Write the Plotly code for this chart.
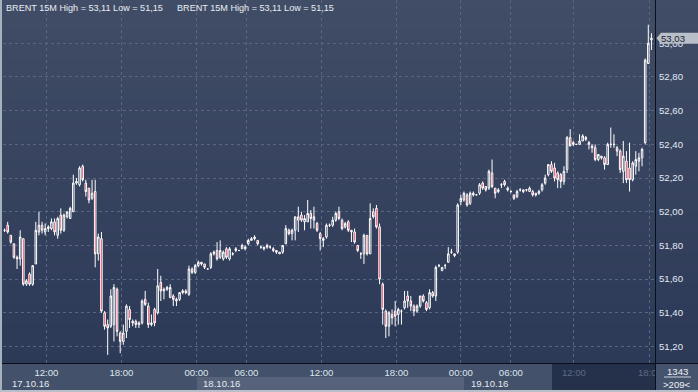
import plotly.graph_objects as go

# ---------------- data ----------------
open_ = [51.89, 51.92, 51.86, 51.81, 51.73, 51.72, 51.84, 51.57, 51.63, 51.57,
         51.69, 51.88, 51.92, 51.88, 51.90, 51.90, 51.94, 51.86, 51.98, 51.89,
         51.97, 51.96, 52.00, 52.17, 52.16, 52.27, 52.17, 52.14, 52.08, 52.12,
         51.75, 51.84, 51.40, 51.33, 51.32, 51.33, 51.54, 51.28, 51.23, 51.29,
         51.42, 51.35, 51.35, 51.33, 51.34, 51.48, 51.44, 51.33, 51.42, 51.40,
         51.58, 51.53, 51.54, 51.49, 51.50, 51.47, 51.48, 51.52, 51.53, 51.51,
         51.66, 51.64, 51.68, 51.70, 51.69, 51.66, 51.67, 51.75, 51.77, 51.73,
         51.72, 51.78, 51.72, 51.75, 51.77, 51.77, 51.78, 51.78, 51.81, 51.83,
         51.85, 51.83, 51.79, 51.78, 51.80, 51.79, 51.78, 51.77, 51.75, 51.76,
         51.81, 51.89, 51.87, 51.89, 51.95, 51.98, 51.94, 51.94, 51.99, 51.95,
         51.93, 51.87, 51.83, 51.85, 51.92, 51.92, 51.95, 52.00, 51.95, 51.91,
         51.94, 51.89, 51.88, 51.80, 51.75, 51.75, 51.86, 51.75, 52.00, 52.02,
         51.91, 51.57, 51.41, 51.32, 51.39, 51.41, 51.39, 51.41, 51.43, 51.50,
         51.47, 51.44, 51.41, 51.44, 51.50, 51.46, 51.43, 51.52, 51.50, 51.68,
         51.65, 51.68, 51.70, 51.76, 51.75, 51.76, 52.06, 52.07, 52.10, 52.05,
         52.11, 52.10, 52.11, 52.17, 52.15, 52.14, 52.23, 52.14, 52.12, 52.16,
         52.18, 52.14, 52.12, 52.10, 52.09, 52.13, 52.13, 52.13, 52.12, 52.12,
         52.11, 52.11, 52.13, 52.17, 52.22, 52.28, 52.26, 52.23, 52.22, 52.18,
         52.25, 52.44, 52.40, 52.40, 52.40, 52.42, 52.44, 52.41, 52.39, 52.38,
         52.31, 52.33, 52.32, 52.28, 52.40, 52.40, 52.38, 52.36, 52.24, 52.30,
         52.26, 52.19, 52.27, 52.30, 52.32, 52.41, 52.88, 53.02]
high = [51.90, 51.94, 51.86, 51.81, 51.74, 51.89, 51.84, 51.60, 51.64, 51.68,
        51.94, 52.00, 51.94, 51.93, 51.92, 51.96, 51.96, 51.97, 52.02, 51.99,
        52.00, 52.03, 52.22, 52.20, 52.27, 52.28, 52.19, 52.14, 52.19, 52.19,
        51.87, 51.88, 51.41, 51.36, 51.54, 51.57, 51.55, 51.29, 51.33, 51.45,
        51.44, 51.36, 51.36, 51.35, 51.48, 51.53, 51.46, 51.39, 51.43, 51.66,
        51.62, 51.55, 51.56, 51.57, 51.51, 51.49, 51.52, 51.54, 51.54, 51.68,
        51.67, 51.69, 51.71, 51.70, 51.69, 51.66, 51.76, 51.77, 51.82, 51.83,
        51.77, 51.79, 51.79, 51.76, 51.79, 51.77, 51.81, 51.80, 51.84, 51.85,
        51.86, 51.83, 51.80, 51.79, 51.81, 51.80, 51.79, 51.77, 51.76, 51.80,
        51.92, 51.90, 51.90, 51.97, 52.03, 52.00, 51.98, 52.07, 52.01, 52.03,
        51.94, 51.88, 51.85, 51.93, 51.93, 51.97, 52.00, 52.03, 51.96, 51.94,
        51.95, 51.89, 51.90, 51.80, 51.76, 51.87, 51.86, 52.05, 52.02, 52.04,
        51.93, 51.58, 51.42, 51.41, 51.42, 51.47, 51.43, 51.42, 51.53, 51.53,
        51.50, 51.45, 51.45, 51.50, 51.51, 51.47, 51.54, 51.53, 51.68, 51.69,
        51.67, 51.69, 51.79, 51.78, 51.75, 52.05, 52.10, 52.12, 52.11, 52.12,
        52.12, 52.10, 52.17, 52.18, 52.15, 52.25, 52.31, 52.14, 52.14, 52.17,
        52.19, 52.15, 52.13, 52.10, 52.13, 52.14, 52.13, 52.13, 52.15, 52.13,
        52.11, 52.13, 52.17, 52.22, 52.28, 52.30, 52.29, 52.24, 52.23, 52.27,
        52.45, 52.49, 52.42, 52.40, 52.46, 52.46, 52.45, 52.42, 52.40, 52.40,
        52.34, 52.33, 52.33, 52.41, 52.50, 52.46, 52.39, 52.37, 52.42, 52.36,
        52.41, 52.30, 52.36, 52.35, 52.38, 52.91, 53.11, 53.06]
low = [51.88, 51.87, 51.81, 51.72, 51.66, 51.68, 51.56, 51.56, 51.56, 51.56,
       51.69, 51.86, 51.87, 51.86, 51.88, 51.89, 51.86, 51.84, 51.87, 51.88,
       51.96, 51.96, 52.00, 52.16, 52.15, 52.18, 52.09, 52.05, 52.07, 51.67,
       51.71, 51.40, 51.30, 51.15, 51.31, 51.23, 51.26, 51.16, 51.21, 51.25,
       51.31, 51.32, 51.31, 51.31, 51.33, 51.44, 51.31, 51.32, 51.32, 51.39,
       51.47, 51.48, 51.53, 51.49, 51.44, 51.44, 51.47, 51.51, 51.51, 51.50,
       51.63, 51.63, 51.67, 51.68, 51.66, 51.66, 51.66, 51.74, 51.71, 51.72,
       51.71, 51.72, 51.71, 51.74, 51.76, 51.77, 51.78, 51.77, 51.80, 51.83,
       51.83, 51.80, 51.78, 51.77, 51.78, 51.78, 51.76, 51.75, 51.75, 51.75,
       51.81, 51.86, 51.83, 51.83, 51.88, 51.94, 51.89, 51.94, 51.90, 51.90,
       51.88, 51.77, 51.79, 51.84, 51.91, 51.91, 51.94, 51.95, 51.89, 51.90,
       51.88, 51.82, 51.81, 51.76, 51.72, 51.69, 51.74, 51.75, 51.96, 51.90,
       51.57, 51.33, 51.25, 51.26, 51.33, 51.32, 51.33, 51.33, 51.42, 51.43,
       51.41, 51.38, 51.40, 51.43, 51.46, 51.41, 51.42, 51.49, 51.47, 51.67,
       51.65, 51.66, 51.70, 51.75, 51.73, 51.75, 52.04, 52.06, 52.03, 52.04,
       52.09, 52.10, 52.10, 52.13, 52.12, 52.13, 52.14, 52.08, 52.11, 52.14,
       52.15, 52.12, 52.11, 52.07, 52.08, 52.12, 52.11, 52.12, 52.12, 52.09,
       52.09, 52.10, 52.12, 52.16, 52.21, 52.23, 52.18, 52.14, 52.14, 52.16,
       52.23, 52.39, 52.39, 52.40, 52.40, 52.42, 52.42, 52.37, 52.35, 52.30,
       52.30, 52.31, 52.25, 52.28, 52.38, 52.38, 52.33, 52.23, 52.17, 52.17,
       52.12, 52.18, 52.22, 52.24, 52.27, 52.40, 52.88, 52.96]
close = [51.89, 51.88, 51.82, 51.73, 51.72, 51.85, 51.57, 51.59, 51.57, 51.68,
         51.89, 51.92, 51.89, 51.90, 51.91, 51.94, 51.88, 51.96, 51.89, 51.98,
         52.00, 52.02, 52.17, 52.18, 52.26, 52.19, 52.12, 52.07, 52.11, 51.75,
         51.85, 51.41, 51.32, 51.31, 51.50, 51.55, 51.29, 51.23, 51.28, 51.44,
         51.36, 51.34, 51.33, 51.34, 51.47, 51.45, 51.33, 51.34, 51.34, 51.56,
         51.53, 51.54, 51.55, 51.55, 51.48, 51.48, 51.52, 51.53, 51.52, 51.66,
         51.64, 51.68, 51.70, 51.69, 51.67, 51.66, 51.75, 51.76, 51.72, 51.77,
         51.76, 51.73, 51.78, 51.75, 51.78, 51.77, 51.80, 51.79, 51.83, 51.84,
         51.84, 51.81, 51.79, 51.79, 51.79, 51.79, 51.77, 51.76, 51.76, 51.80,
         51.90, 51.87, 51.89, 51.97, 51.97, 51.95, 51.96, 51.99, 51.96, 51.97,
         51.89, 51.84, 51.84, 51.92, 51.92, 51.95, 51.99, 51.96, 51.90, 51.93,
         51.89, 51.88, 51.82, 51.77, 51.75, 51.86, 51.75, 51.96, 51.97, 51.91,
         51.60, 51.42, 51.32, 51.40, 51.37, 51.38, 51.42, 51.41, 51.47, 51.47,
         51.44, 51.41, 51.44, 51.50, 51.47, 51.42, 51.52, 51.50, 51.67, 51.68,
         51.67, 51.68, 51.75, 51.76, 51.74, 52.04, 52.08, 52.11, 52.04, 52.11,
         52.10, 52.10, 52.16, 52.14, 52.13, 52.24, 52.15, 52.11, 52.13, 52.16,
         52.16, 52.13, 52.12, 52.08, 52.12, 52.13, 52.12, 52.13, 52.14, 52.10,
         52.10, 52.12, 52.16, 52.20, 52.28, 52.24, 52.20, 52.19, 52.18, 52.24,
         52.44, 52.39, 52.41, 52.40, 52.42, 52.45, 52.43, 52.40, 52.38, 52.31,
         52.34, 52.32, 52.28, 52.40, 52.40, 52.40, 52.36, 52.25, 52.33, 52.19,
         52.19, 52.29, 52.31, 52.32, 52.37, 52.90, 53.00, 53.03]

time_tick_pos = [13.4, 37.4, 61.4, 77.4, 101.4, 125.4, 146.0, 162.0, 182.2, 206.5]
time_tick_text = ["12:00", "18:00", "00:00", "06:00", "12:00", "18:00",
                  "00:00", "06:00", "12:00", "18:00"]
price_ticks = [51.2, 51.4, 51.6, 51.8, 52.0, 52.2, 52.4, 52.6, 52.8, 53.0]
price_tick_text = ["51,20", "51,40", "51,60", "51,80", "52,00", "52,20",
                   "52,40", "52,60", "52,80", "53,00"]
date_labels = ["17.10.16", "18.10.16", "19.10.16"]
title_text = "BRENT 15M High = 53,11 Low = 51,15"
last_price = 53.03
last_price_text = "53,03"
bar_total = "1343"
bars_visible = ">209<"

# ---------------- layout geometry ----------------
W, H = 698, 392
ML, MR, MT, MB = 3, 43, 0, 29
PW = W - ML - MR
PH = H - MT - MB
FONT = "Liberation Sans, Arial, sans-serif"


def px(xp):
    return (xp - ML) / PW


def py(yp):
    return (MT + PH - yp) / PH


def mix(c1, c2, t):
    return "#%02x%02x%02x" % tuple(round(a + (b - a) * t) for a, b in zip(c1, c2))


n = len(close)
xs = list(range(n))

fig = go.Figure()
fig.add_trace(go.Candlestick(
    x=xs, open=open_, high=high, low=low, close=close,
    increasing=dict(line=dict(color="#ffffff", width=1), fillcolor="rgba(0,0,0,0)"),
    decreasing=dict(line=dict(color="#ffffff", width=1), fillcolor="#e3122f"),
    whiskerwidth=0, hoverinfo="skip", showlegend=False,
))

shapes = []
# background gradient (plot + right panel)
top_c, bot_c = (0x41, 0x4d, 0x66), (0x2c, 0x39, 0x57)
nb = 36
for k in range(nb):
    y0p = PH * k / nb
    y1p = PH * (k + 1) / nb
    shapes.append(dict(type="rect", xref="paper", yref="paper", layer="below",
                       x0=px(0), x1=px(W), y0=py(y1p), y1=py(y0p),
                       fillcolor=mix(top_c, bot_c, (k + 0.5) / nb), line=dict(width=0)))
# bottom time panel
shapes.append(dict(type="rect", xref="paper", yref="paper", layer="below",
                   x0=px(0), x1=px(W), y0=py(H), y1=py(PH),
                   fillcolor="#43516a", line=dict(width=0)))
shapes.append(dict(type="rect", xref="paper", yref="paper", layer="below",
                   x0=px(197), x1=px(464), y0=py(390), y1=py(377),
                   fillcolor="#55627a", line=dict(width=0)))
shapes.append(dict(type="rect", xref="paper", yref="paper", layer="below",
                   x0=px(552), x1=px(655), y0=py(390), y1=py(364),
                   fillcolor="#25314a", line=dict(width=0)))
# axis lines
shapes.append(dict(type="line", xref="paper", yref="paper", layer="above",
                   x0=px(0), x1=px(W), y0=py(363.5), y1=py(363.5),
                   line=dict(color="#0a0f1a", width=1)))
shapes.append(dict(type="line", xref="paper", yref="paper", layer="above",
                   x0=px(655.5), x1=px(655.5), y0=py(H), y1=py(0),
                   line=dict(color="#0a0f1a", width=1)))
# bottom-right counter box
shapes.append(dict(type="rect", xref="paper", yref="paper", layer="above",
                   x0=px(656), x1=px(W), y0=py(390), y1=py(364),
                   fillcolor="#46536c", line=dict(width=0)))
shapes.append(dict(type="line", xref="paper", yref="paper", layer="above",
                   x0=px(664), x1=px(691), y0=py(377), y1=py(377),
                   line=dict(color="#c9d0da", width=1)))
# window borders
shapes.append(dict(type="rect", xref="paper", yref="paper", layer="above",
                   x0=px(0), x1=px(2), y0=py(H), y1=py(0),
                   fillcolor="#a7b0bd", line=dict(width=0)))
shapes.append(dict(type="rect", xref="paper", yref="paper", layer="above",
                   x0=px(0), x1=px(W), y0=py(H), y1=py(390),
                   fillcolor="#b9bfc8", line=dict(width=0)))
# last price marker
dy = 5.6 / PH * (53.257 - 51.102)
path = "M %f,%f L %f,%f L %f,%f L %f,%f L %f,%f Z" % (
    px(656.5), last_price, px(661), last_price + dy, px(698), last_price + dy,
    px(698), last_price - dy, px(661), last_price - dy)
shapes.append(dict(type="path", xref="paper", yref="y", layer="above", path=path,
                   fillcolor="#b8bfc9", line=dict(width=0)))

dim = '<span style="color:#5b6a83">%s</span>'
shown_ticks = [t if i < 8 else dim % t for i, t in enumerate(time_tick_text)]

annotations = [
    dict(text=title_text, xref="paper", yref="paper", x=px(4), y=py(8.5),
         xanchor="left", yanchor="middle", showarrow=False,
         font=dict(family=FONT, size=9.1, color="#e8edf4")),
    dict(text=title_text, xref="paper", yref="paper", x=px(175), y=py(8.5),
         xanchor="left", yanchor="middle", showarrow=False,
         font=dict(family=FONT, size=9.1, color="#e8edf4")),
    dict(text=last_price_text, xref="paper", yref="y", x=px(659), y=last_price,
         xanchor="left", yanchor="middle", showarrow=False,
         font=dict(family=FONT, size=9.6, color="#1b2233")),
    dict(text=bar_total, xref="paper", yref="paper", x=px(677), y=py(371),
         xanchor="center", yanchor="middle", showarrow=False,
         font=dict(family=FONT, size=9.6, color="#eef2f7")),
    dict(text=bars_visible, xref="paper", yref="paper", x=px(677), y=py(384),
         xanchor="center", yanchor="middle", showarrow=False,
         font=dict(family=FONT, size=9.6, color="#eef2f7")),
]
date_x = [px(10), px(201), px(469)]
for lbl, xx in zip(date_labels, date_x):
    annotations.append(dict(text=lbl, xref="paper", yref="paper", x=xx, y=py(383.5),
                            xanchor="left", yanchor="middle", showarrow=False,
                            font=dict(family=FONT, size=9.6, color="#e4e9f0")))

fig.update_layout(
    width=W, height=H,
    margin=dict(l=ML, r=MR, t=MT, b=MB, pad=0),
    paper_bgcolor="#3a4760", plot_bgcolor="rgba(0,0,0,0)",
    showlegend=False, hovermode=False, boxgap=0.3,
    shapes=shapes, annotations=annotations,
    font=dict(family=FONT, size=9.6, color="#e4e9f0"),
    xaxis=dict(range=[-0.5, n + 0.14], tickvals=time_tick_pos, ticktext=shown_ticks,
               showgrid=True, gridcolor="#58667f", griddash="3px,3px", gridwidth=1,
               zeroline=False, showline=False, ticks="", ticklabelstandoff=2,
               rangeslider=dict(visible=False), fixedrange=True,
               tickfont=dict(family=FONT, size=9.6, color="#dfe6ef")),
    yaxis=dict(range=[51.102, 53.257], side="right", tickvals=price_ticks,
               ticktext=price_tick_text, showgrid=True, gridcolor="#58667f",
               griddash="3px,3px", gridwidth=1, zeroline=False, showline=False,
               ticks="", ticklabelstandoff=3, fixedrange=True,
               tickfont=dict(family=FONT, size=9.6, color="#e2eaf5")),
)

fig.write_html("out.html", config={"displayModeBar": False})
